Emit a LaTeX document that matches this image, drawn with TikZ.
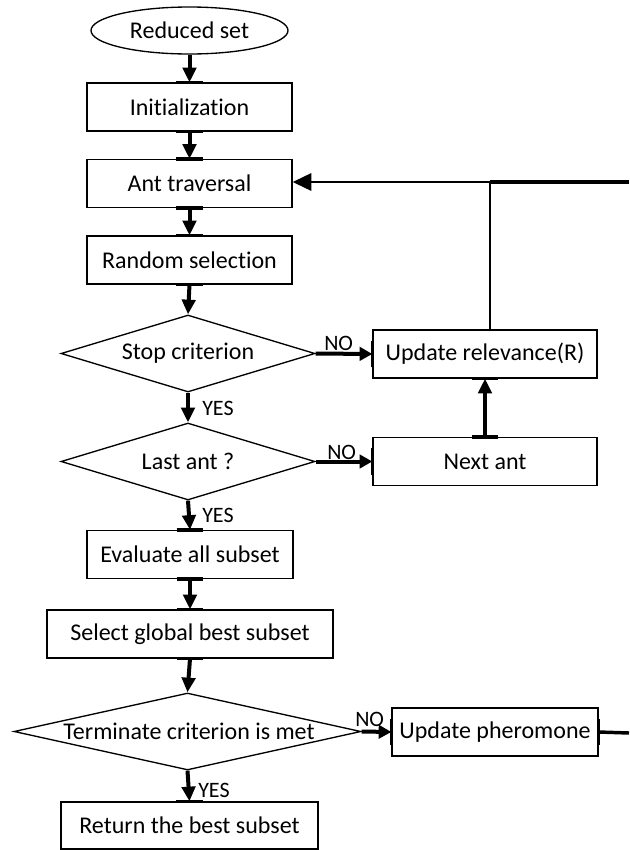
\documentclass[tikz,border=0pt]{standalone}
\usepackage{fontspec}
\setmainfont{Carlito}[Ligatures={NoCommon}]
\usetikzlibrary{shapes.geometric,arrows.meta}
\newcommand{\cpH}[1]{\draw[cpbar] ([xshift=-10pt]#1) -- ([xshift=10pt]#1);}
\newcommand{\cpV}[1]{\draw[cpbar] ([yshift=-10pt]#1) -- ([yshift=10pt]#1);}
\begin{document}
\begin{tikzpicture}[x=0.75pt,y=-0.75pt,
  every node/.style={font=\fontsize{18}{21}\selectfont},
  box/.style={draw,line width=1pt,rectangle,inner sep=0pt,minimum height=36pt},
  dia/.style={draw,line width=1pt,diamond,inner sep=0pt,minimum height=57.75pt},
  lbl/.style={font=\fontsize{16.5}{19}\selectfont,inner sep=0pt},
  arr/.style={line width=3pt,-{Triangle[length=11pt,width=10pt]}},
  harr/.style={line width=3pt,-{Triangle[length=9.5pt,width=10pt]}},
  fb/.style={line width=1.6pt},
  fbarr/.style={line width=1.6pt,-{Triangle[length=14pt,width=13pt]}},
  cpbar/.style={line width=2.6pt}]
\useasboundingbox (0,0) rectangle (629,850);

% main column
\node[draw,line width=1pt,ellipse,inner sep=0pt,minimum width=147.75pt,minimum height=35.25pt] (red) at (189.5,30.5) {Reduced set};
\node[box,minimum width=153.75pt] (init) at (189.5,107) {Initialization};
\node[box,minimum width=153.75pt] (ant) at (189.5,183.5) {Ant traversal};
\node[box,minimum width=153.75pt] (rand) at (189.5,260) {Random selection};
\node[dia,minimum width=190.5pt] (stop) at (188,353.5) {};
\node (stopt) at (188,353.5) {Stop criterion};
\node[dia,minimum width=190.5pt] (last) at (188,461.5) {};
\node (lastt) at (188,461.5) {Last ant ?};
\node[box,minimum width=154.5pt] (eval) at (190,554.5) {Evaluate all subset};
\node[box,minimum width=214.5pt] (sel) at (190,634) {Select global best subset};
\node[dia,minimum width=260.25pt] (term) at (187.5,731.5) {};
\node (termt) at (189,731.5) {Terminate criterion is met};
\node[box,minimum width=192.75pt,minimum height=35.25pt] (ret) at (189.5,825.5) {Return the best subset};

% right column
\node[box,minimum width=168pt] (upd) at (485,354) {Update relevance(R)};
\node[box,minimum width=168pt] (next) at (485,461.5) {Next ant};
\node[box,minimum width=154.5pt] (pher) at (495,732) {Update pheromone};

% vertical flow
\draw[arr] (red.south) -- (init.north);
\draw[arr] (init.south) -- (ant.north);
\draw[arr] (ant.south) -- (rand.north);
\draw[arr] (rand.south) -- (stop.north);
\draw[arr] (stop.south) -- (last.north);
\draw[arr] (last.south) -- (eval.north);
\draw[arr] (eval.south) -- (sel.north);
\draw[arr] (sel.south) -- (term.north);
\draw[arr] (term.south) -- (ret.north);

% NO branches
\draw[harr] (stop.east) -- (upd.west);
\draw[harr] (last.east) -- (next.west);
\draw[harr] (term.east) -- (pher.west);
\draw[arr] (next.north) -- (upd.south);

% labels
\node[lbl,anchor=west] (y1) at (202,408) {YES};
\node[lbl,anchor=west] (y2) at (202,515) {YES};
\node[lbl,anchor=west] (y3) at (198,790) {YES};
\node[lbl,anchor=west] (n1) at (324,343) {NO};
\node[lbl,anchor=west] (n2) at (327,452) {NO};
\node[lbl,anchor=west] (n3) at (355,719) {NO};

% feedback
\coordinate (J) at (490,182);
\coordinate (E1) at (629,182);
\coordinate (E2) at (629,733);
\draw[line width=2.6pt] (E1) -- (J);
\draw[fbarr] (J) -- (ant.east |- J);
\draw[fb] (upd.north -| J) -- (J);
\draw[line width=2.6pt] (pher.east) -- (E2);

% connection point marks
\cpH{init.north} \cpH{init.south}
\cpH{ant.north} \cpH{ant.south}
\cpH{rand.north} \cpH{rand.south}
\cpH{eval.north} \cpH{eval.south}
\cpH{sel.north} \cpH{sel.south}
\cpH{ret.north}
\cpH{upd.south} \cpH{next.north}
\cpV{upd.west} \cpV{next.west}
\cpV{pher.west} \cpV{pher.east}
\end{tikzpicture}
\end{document}
